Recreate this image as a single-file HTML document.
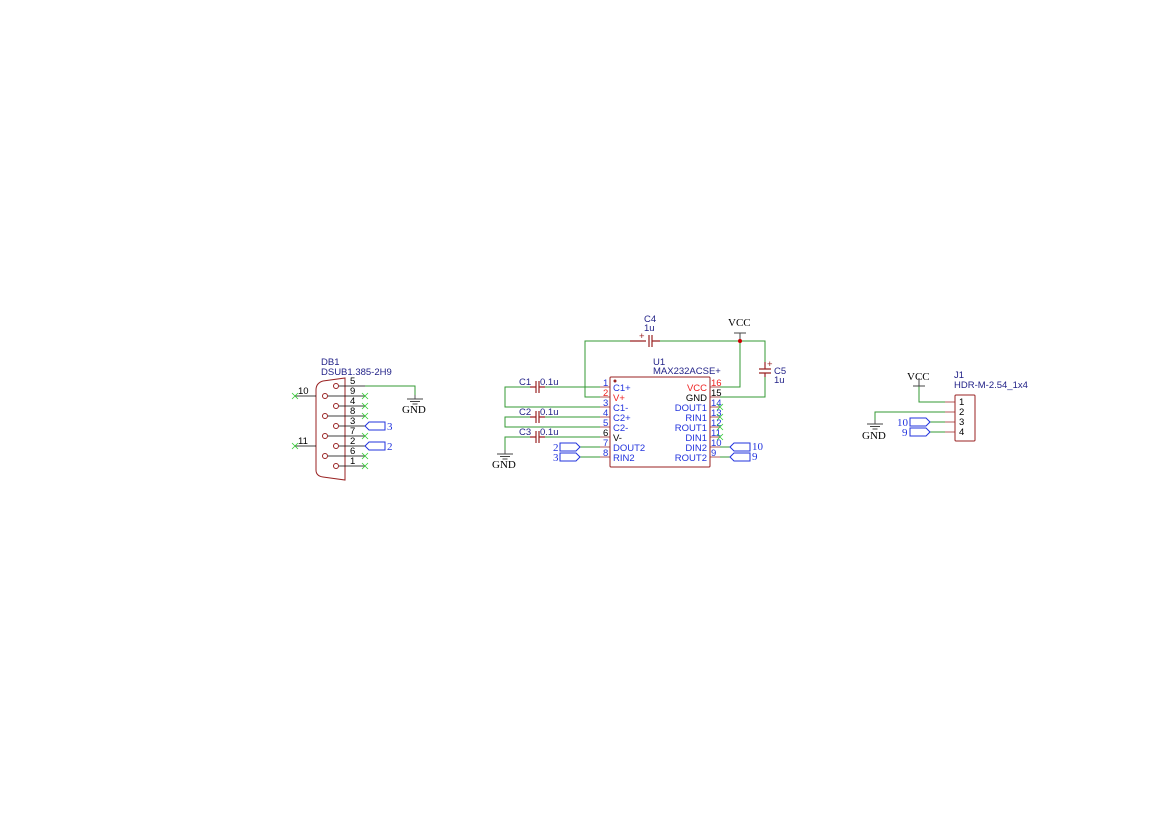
<!DOCTYPE html>
<html><head><meta charset="utf-8"><style>
html,body{margin:0;padding:0;background:#fff;}
svg{display:block;}
.t{font-family:"Liberation Sans",sans-serif;font-size:9.5px;}
.s{font-family:"Liberation Serif",serif;font-size:11px;}
</style></head><body>
<svg width="1169" height="827" viewBox="0 0 1169 827" xmlns="http://www.w3.org/2000/svg">
<defs>
<g id="x"><path d="M-3,-3L3,3M-3,3L3,-3" stroke="#3c3" stroke-width="0.8"/></g>
<g id="gnd"><path d="M0,0V4M-8,4H8M-5,6.5H5M-2.5,9H2.5" stroke="#444" stroke-width="0.9" fill="none"/></g>
<g id="flagR"><path d="M0,0L4,-4H20V4H4Z" stroke="#23d" stroke-width="1" fill="none"/></g>
</defs>
<!-- DB1 -->
<text class="t" x="321" y="365" fill="#228">DB1</text>
<text class="t" x="321" y="375" fill="#228">DSUB1.385-2H9</text>
<path d="M323,381 Q316,383 316,390 V470 Q316,476 323,477 L345,480 V378 Z" stroke="#922" stroke-width="1" fill="none"/>
<g stroke="#922" stroke-width="1" fill="none">
<circle cx="336" cy="386" r="2.5"/><circle cx="325" cy="396" r="2.5"/><circle cx="336" cy="406" r="2.5"/>
<circle cx="325" cy="416" r="2.5"/><circle cx="336" cy="426" r="2.5"/><circle cx="325" cy="436" r="2.5"/>
<circle cx="336" cy="446" r="2.5"/><circle cx="325" cy="456" r="2.5"/><circle cx="336" cy="466" r="2.5"/>
</g>
<g stroke="#000" stroke-width="0.8">
<path d="M339,386H365M328,396H365M339,406H365M328,416H365M339,426H365M328,436H365M339,446H365M328,456H365M339,466H365"/>
<path d="M295,396H316M295,446H316"/>
</g>
<g class="t" fill="#000">
<text x="350" y="384">5</text><text x="350" y="394">9</text><text x="350" y="404">4</text><text x="350" y="414">8</text>
<text x="350" y="424">3</text><text x="350" y="434">7</text><text x="350" y="444">2</text><text x="350" y="454">6</text><text x="350" y="464">1</text>
<text x="298" y="394">10</text><text x="298" y="444">11</text>
</g>
<use href="#x" x="295" y="396"/><use href="#x" x="295" y="446"/>
<use href="#x" x="365" y="396"/><use href="#x" x="365" y="406"/><use href="#x" x="365" y="416"/>
<use href="#x" x="365" y="436"/><use href="#x" x="365" y="456"/><use href="#x" x="365" y="466"/>
<path d="M365,386H415V395" stroke="#393" stroke-width="1" fill="none"/>
<use href="#gnd" x="415" y="395"/>
<text class="s" x="402" y="413" fill="#000">GND</text>
<use href="#flagR" x="365" y="426"/><use href="#flagR" x="365" y="446"/>
<text class="s" x="387" y="430" fill="#23d" font-size="10">3</text>
<text class="s" x="387" y="450" fill="#23d" font-size="10">2</text>

<!-- U1 -->
<rect x="610" y="377" width="100" height="90" stroke="#922" stroke-width="1" fill="none" rx="1"/>
<circle cx="615" cy="381" r="1.5" fill="#922"/>
<text class="t" x="653" y="365" fill="#228">U1</text>
<text class="t" x="653" y="374" fill="#228">MAX232ACSE+</text>
<g stroke="#922" stroke-width="0.8">
<path d="M600,387H610M600,397H610M600,407H610M600,417H610M600,427H610M600,437H610M600,447H610M600,457H610"/>
<path d="M710,387H720M710,397H720M710,407H720M710,417H720M710,427H720M710,437H720M710,447H720M710,457H720"/>
</g>
<g class="t">
<text x="603" y="386" fill="#23d">1</text><text x="603" y="396" fill="#e22">2</text><text x="603" y="406" fill="#23d">3</text>
<text x="603" y="416" fill="#23d">4</text><text x="603" y="426" fill="#23d">5</text><text x="603" y="436" fill="#000">6</text>
<text x="603" y="446" fill="#23d">7</text><text x="603" y="456" fill="#23d">8</text>
<text x="613" y="391" fill="#23d">C1+</text><text x="613" y="401" fill="#e22">V+</text><text x="613" y="411" fill="#23d">C1-</text>
<text x="613" y="421" fill="#23d">C2+</text><text x="613" y="431" fill="#23d">C2-</text><text x="613" y="441" fill="#000">V-</text>
<text x="613" y="451" fill="#23d">DOUT2</text><text x="613" y="461" fill="#23d">RIN2</text>
<g text-anchor="end">
<text x="707" y="391" fill="#e22">VCC</text><text x="707" y="401" fill="#000">GND</text><text x="707" y="411" fill="#23d">DOUT1</text>
<text x="707" y="421" fill="#23d">RIN1</text><text x="707" y="431" fill="#23d">ROUT1</text><text x="707" y="441" fill="#23d">DIN1</text>
<text x="707" y="451" fill="#23d">DIN2</text><text x="707" y="461" fill="#23d">ROUT2</text>
</g>
<text x="711" y="386" fill="#e22">16</text><text x="711" y="396" fill="#000">15</text><text x="711" y="406" fill="#23d">14</text>
<text x="711" y="416" fill="#23d">13</text><text x="711" y="426" fill="#23d">12</text><text x="711" y="436" fill="#23d">11</text>
<text x="711" y="446" fill="#23d">10</text><text x="711" y="456" fill="#23d">9</text>
</g>
<use href="#x" x="720" y="407"/><use href="#x" x="720" y="417"/><use href="#x" x="720" y="427"/><use href="#x" x="720" y="437"/>

<!-- wires U1 -->
<g stroke="#393" stroke-width="1" fill="none">
<path d="M600,397H585V341H630M660,341H765V362M765,377V397H720"/>
<path d="M740,341V387H720"/>
<path d="M530,387H505V407H600M545,387H600"/>
<path d="M530,417H505V427H600M545,417H600"/>
<path d="M530,437H505V450M545,437H600"/>
<path d="M580,447H600M580,457H600"/>
<path d="M720,447H730M720,457H730"/>
</g>
<!-- caps -->
<g stroke="#922" stroke-width="1.2" fill="none">
<path d="M630,341H646M649,335V347M652,335V347M652,341H660"/>
<path d="M765,362V369M759,369H771M759,373H771M765,373V377"/>
<path d="M530,387H536M536,381V393M539,381V393M539,387H545"/>
<path d="M530,417H536M536,411V423M539,411V423M539,417H545"/>
<path d="M530,437H536M536,431V443M539,431V443M539,437H545"/>
</g>
<text class="t" x="639" y="339" fill="#922" font-size="7">+</text>
<text class="t" x="767" y="367" fill="#922" font-size="7">+</text>
<text class="t" x="644" y="322" fill="#228">C4</text><text class="t" x="644" y="331" fill="#228">1u</text>
<text class="t" x="774" y="374" fill="#228">C5</text><text class="t" x="774" y="383" fill="#228">1u</text>
<text class="t" x="519" y="385" fill="#228">C1</text><text class="t" x="540" y="385" fill="#228">0.1u</text>
<text class="t" x="519" y="415" fill="#228">C2</text><text class="t" x="540" y="415" fill="#228">0.1u</text>
<text class="t" x="519" y="435" fill="#228">C3</text><text class="t" x="540" y="435" fill="#228">0.1u</text>
<use href="#gnd" x="505" y="450"/>
<text class="s" x="492" y="468" fill="#000">GND</text>
<path d="M740,333V341M734,333H746" stroke="#444" stroke-width="1"/>
<circle cx="740" cy="341" r="2" fill="#c00"/>
<text class="s" x="728" y="326" fill="#000">VCC</text>
<!-- left flags -->
<path d="M580,447L576,443H560V451H576Z M580,457L576,453H560V461H576Z" stroke="#23d" stroke-width="1" fill="none"/>
<text class="s" x="553" y="451" fill="#23d" font-size="10">2</text>
<text class="s" x="553" y="461" fill="#23d" font-size="10">3</text>
<use href="#flagR" x="730" y="447"/><use href="#flagR" x="730" y="457"/>
<text class="s" x="752" y="450" fill="#23d" font-size="10">10</text>
<text class="s" x="752" y="460" fill="#23d" font-size="10">9</text>

<!-- J1 -->
<text class="t" x="954" y="378" fill="#228">J1</text>
<text class="t" x="954" y="388" fill="#228">HDR-M-2.54_1x4</text>
<rect x="955" y="395" width="20" height="46" stroke="#922" stroke-width="1" fill="none" rx="1"/>
<g stroke="#922" stroke-width="0.8"><path d="M945,402H955M945,412H955M945,422H955M945,432H955"/></g>
<g class="t" fill="#000"><text x="959" y="405">1</text><text x="959" y="415">2</text><text x="959" y="425">3</text><text x="959" y="435">4</text></g>
<g stroke="#393" stroke-width="1" fill="none">
<path d="M919,386V402H945M875,420V412H945M930,422H945M930,432H945"/>
</g>
<path d="M919,378V386M913,386H925" stroke="#444" stroke-width="1"/>
<text class="s" x="907" y="380" fill="#000">VCC</text>
<use href="#gnd" x="875" y="420"/>
<text class="s" x="862" y="439" fill="#000">GND</text>
<path d="M930,422L926,418H910V426H926Z M930,432L926,428H910V436H926Z" stroke="#23d" stroke-width="1" fill="none"/>
<text class="s" x="897" y="426" fill="#23d" font-size="10">10</text>
<text class="s" x="902" y="436" fill="#23d" font-size="10">9</text>
</svg>
</body></html>
